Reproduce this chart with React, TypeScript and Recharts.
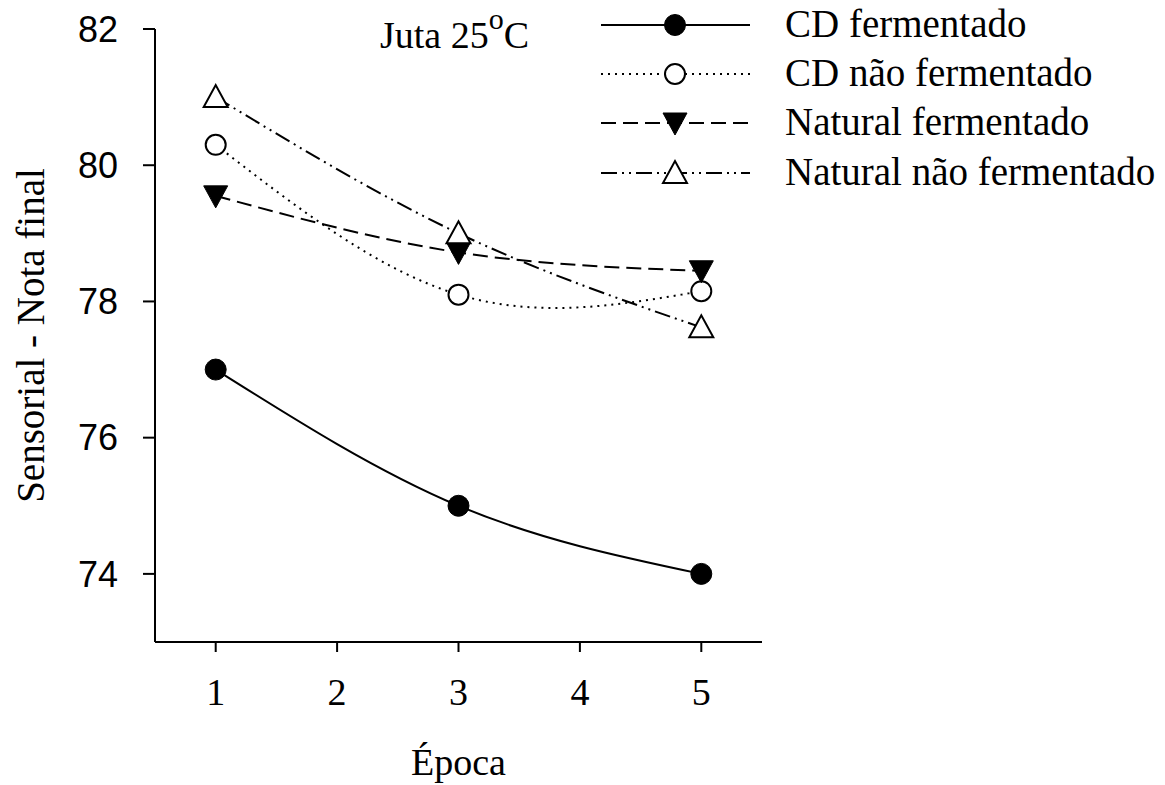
import React from "react";
import { LineChart, Line, XAxis, YAxis } from "recharts";

// Época (x) values and the four series
const epocas = [1, 3, 5];
const cdFermentado = [77.0, 75.0, 74.0];
const cdNaoFermentado = [80.3, 78.1, 78.15];
const naturalFermentado = [79.55, 78.72, 78.45];
const naturalNaoFermentado = [81.0, 79.0, 77.62];

const xTicks = [1, 2, 3, 4, 5];
const yTicks = [74, 76, 78, 80, 82];

const serif = "'Liberation Serif', 'Times New Roman', serif";
const sans = "'Liberation Sans', Arial, sans-serif";

const series = [
  { key: "cdF", name: "CD fermentado", dash: undefined, shape: "circleFilled" },
  { key: "cdNF", name: "CD não fermentado", dash: "2 5", shape: "circleOpen" },
  { key: "natF", name: "Natural fermentado", dash: "15 7", shape: "triDown" },
  { key: "natNF", name: "Natural não fermentado", dash: "16 5 2 5 2 5", shape: "triUp" },
];

const data = epocas.map((e, i) => ({
  epoca: e,
  cdF: cdFermentado[i],
  cdNF: cdNaoFermentado[i],
  natF: naturalFermentado[i],
  natNF: naturalNaoFermentado[i],
}));

const Marker = ({ cx, cy, shape }: any) => {
  if (cx == null || cy == null) return null;
  switch (shape) {
    case "circleFilled":
      return <circle cx={cx} cy={cy} r={10.5} fill="#000" stroke="#000" strokeWidth={1} />;
    case "circleOpen":
      return <circle cx={cx} cy={cy} r={10} fill="#fff" stroke="#000" strokeWidth={2} />;
    case "triDown":
      return (
        <polygon
          points={`${cx - 12},${cy - 10} ${cx + 12},${cy - 10} ${cx},${cy + 12}`}
          fill="#000"
          stroke="#000"
          strokeWidth={1}
        />
      );
    default:
      return (
        <polygon
          points={`${cx - 12},${cy + 10} ${cx + 12},${cy + 10} ${cx},${cy - 12}`}
          fill="#fff"
          stroke="#000"
          strokeWidth={2}
        />
      );
  }
};

const Overlay = () => {
  const rowY = [25, 74, 123, 173];
  return (
    <svg
      width={1165}
      height={785}
      style={{ position: "absolute", left: 0, top: 0, pointerEvents: "none" }}
    >
      <text x={380} y={48} fontFamily={serif} fontSize={38} fill="#000">
        Juta 25
        <tspan fontSize={30} dy={-19}>o</tspan>
        <tspan dy={19}>C</tspan>
      </text>
      {series.map((s, i) => (
        <g key={s.key}>
          <line
            x1={601}
            x2={750}
            y1={rowY[i]}
            y2={rowY[i]}
            stroke="#000"
            strokeWidth={2}
            strokeDasharray={s.dash}
          />
          <Marker cx={675} cy={rowY[i]} shape={s.shape} />
          <text x={785} y={rowY[i] + 12} fontFamily={serif} fontSize={39} fill="#000">
            {s.name}
          </text>
        </g>
      ))}
    </svg>
  );
};

export default function App() {
  return (
    <div style={{ position: "absolute", left: 0, top: 0, width: 1165, height: 785, background: "#fff" }}>
      <LineChart
        width={1165}
        height={785}
        data={data}
        margin={{ top: 29, right: 403, bottom: 0, left: 0 }}
      >
        <XAxis
          dataKey="epoca"
          type="number"
          domain={[0.5, 5.5]}
          ticks={xTicks}
          height={143}
          axisLine={{ stroke: "#000", strokeWidth: 2 }}
          tickLine={{ stroke: "#000", strokeWidth: 2 }}
          tickSize={10}
          tickMargin={26}
          tick={{ fill: "#000", fontSize: 38, fontFamily: serif }}
          label={{
            value: "Época",
            position: "insideBottom",
            offset: 10,
            style: { fill: "#000", fontSize: 38, fontFamily: serif },
          }}
        />
        <YAxis
          type="number"
          domain={[73, 82]}
          ticks={yTicks}
          width={155}
          axisLine={{ stroke: "#000", strokeWidth: 2 }}
          tickLine={{ stroke: "#000", strokeWidth: 2 }}
          tickSize={12}
          tickMargin={25}
          tick={{ fill: "#000", fontSize: 36, fontFamily: sans }}
          label={{
            value: "Sensorial - Nota final",
            angle: -90,
            position: "insideLeft",
            offset: 30,
            style: { fill: "#000", fontSize: 39, fontFamily: serif, textAnchor: "middle" },
          }}
        />
        {series.map((s) => (
          <Line
            key={s.key}
            type="natural"
            dataKey={s.key}
            name={s.name}
            stroke="#000"
            strokeWidth={2}
            strokeDasharray={s.dash}
            isAnimationActive={false}
            dot={(p: any) => <Marker key={`${s.key}-${p.index}`} cx={p.cx} cy={p.cy} shape={s.shape} />}
            activeDot={false}
          />
        ))}
      </LineChart>
      <Overlay />
    </div>
  );
}
